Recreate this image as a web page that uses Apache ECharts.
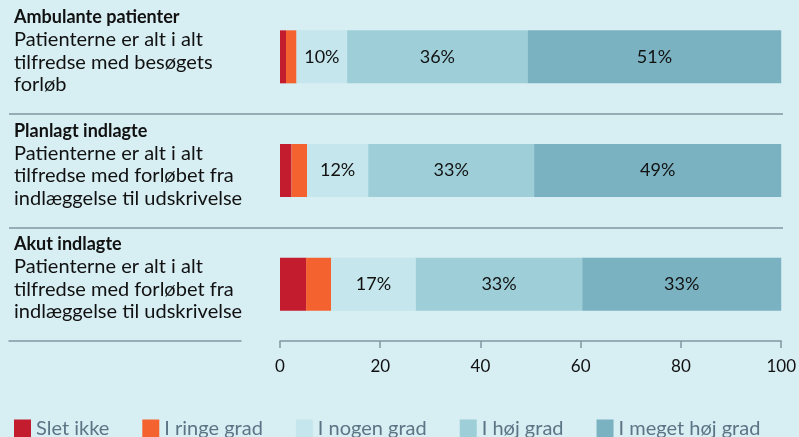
<!DOCTYPE html>
<html>
<head>
<meta charset="utf-8">
<script src="https://cdn.jsdelivr.net/npm/echarts@6/dist/echarts.min.js"></script>
<style>
  html, body { margin: 0; padding: 0; background: #d7eef3; }
  #chart { width: 799px; height: 437px; }
</style>
</head>
<body>
<div id="chart"></div>
<script>
// rækker
const rows = ["Ambulante patienter", "Planlagt indlagte", "Akut indlagte"];
const descriptions = [
  ["Patienterne er alt i alt", "tilfredse med besøgets", "forløb"],
  ["Patienterne er alt i alt", "tilfredse med forløbet fra", "indlæggelse til udskrivelse"],
  ["Patienterne er alt i alt", "tilfredse med forløbet fra", "indlæggelse til udskrivelse"]
];

// andele i procent
const sletIkke = [1.2, 2.3, 5.2];
const ringeGrad = [2.1, 3.1, 5.0];
const nogenGrad = [10.1, 12.2, 16.9];
const hojGrad = [36.0, 33.1, 33.2];
const megetHojGrad = [50.6, 49.3, 39.7];

// etiketter som vist i figuren
const nogenLabels = ["10%", "12%", "17%"];
const hojLabels = ["36%", "33%", "33%"];
const megetHojLabels = ["51%", "49%", "33%"];

const xTicks = [0, 20, 40, 60, 80, 100];

const FONT = "Lato";
const lineColor = "#8396a2";

const chart = echarts.init(document.getElementById("chart"));

function seg(name, data, color, labels) {
  return {
    name: name,
    type: "bar",
    stack: "total",
    xAxisIndex: 0,
    yAxisIndex: 0,
    barWidth: 53,
    data: data,
    itemStyle: { color: color },
    label: labels ? {
      show: true,
      position: "inside",
      color: "#111",
      fontFamily: FONT,
      fontSize: 18,
      formatter: function (p) { return labels[p.dataIndex]; }
    } : { show: false },
    emphasis: { disabled: true }
  };
}

chart.setOption({
  backgroundColor: "#d7eef3",
  animation: false,
  textStyle: { fontFamily: FONT },
  grid: [
    { left: 280, right: 16, top: 0, height: 341 },
    { left: 9, right: 16, top: 0, height: 341 },
    { left: 9, width: 232, top: 0, height: 341 }
  ],
  legend: {
    left: 14,
    top: 419,
    padding: 0,
    itemWidth: 17,
    itemHeight: 19,
    itemGap: 33,
    icon: "rect",
    textStyle: { color: "#5c7585", fontSize: 20, fontFamily: FONT },
    data: ["Slet ikke", "I ringe grad", "I nogen grad", "I høj grad", "I meget høj grad"]
  },
  xAxis: [
    {
      gridIndex: 0,
      type: "value",
      min: xTicks[0],
      max: xTicks[xTicks.length - 1],
      interval: 20,
      axisLine: { show: true, lineStyle: { color: lineColor, width: 1.5 } },
      axisTick: { show: true, length: 7, lineStyle: { color: lineColor, width: 1.5 } },
      axisLabel: { color: "#111", fontSize: 17, fontFamily: FONT, margin: 17 },
      splitLine: { show: false }
    },
    { gridIndex: 1, type: "value", show: false },
    {
      gridIndex: 2,
      type: "value",
      axisLine: { show: true, lineStyle: { color: lineColor, width: 1.5 } },
      axisTick: { show: false },
      axisLabel: { show: false },
      splitLine: { show: false }
    }
  ],
  yAxis: [
    {
      gridIndex: 0,
      type: "category",
      data: rows,
      inverse: true,
      axisLine: { show: false },
      axisTick: { show: false },
      axisLabel: {
        align: "left",
        margin: 266,
        padding: [0, 0, 12, 0],
        formatter: function (v, i) {
          return "{t|" + v + "}\n" + descriptions[i].map(function (l) { return "{b|" + l + "}"; }).join("\n");
        },
        rich: {
          t: { fontFamily: FONT, fontWeight: "bold", fontSize: 18, color: "#111", lineHeight: 22.5 },
          b: { fontFamily: FONT, fontSize: 20, color: "#111", lineHeight: 22.5 }
        }
      }
    },
    {
      gridIndex: 1,
      type: "category",
      data: rows,
      inverse: true,
      axisLine: { show: false },
      axisTick: { show: false },
      axisLabel: { show: false },
      splitLine: { show: true, showMinLine: false, showMaxLine: false, lineStyle: { color: lineColor, width: 1.5 } }
    },
    { gridIndex: 2, type: "category", data: rows, show: false }
  ],
  series: [
    seg("Slet ikke", sletIkke, "#c31c2e"),
    seg("I ringe grad", ringeGrad, "#f4632f"),
    seg("I nogen grad", nogenGrad, "#c5e6ec", nogenLabels),
    seg("I høj grad", hojGrad, "#9ecfd9", hojLabels),
    seg("I meget høj grad", megetHojGrad, "#7ab2c2", megetHojLabels)
  ]
});
</script>
</body>
</html>
